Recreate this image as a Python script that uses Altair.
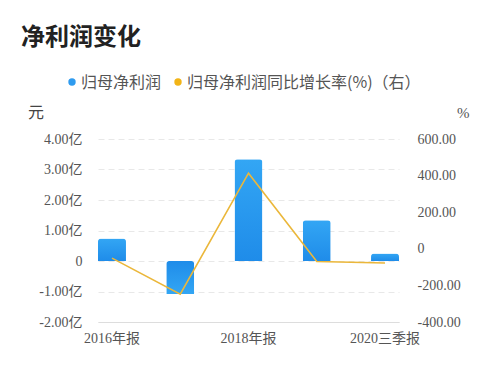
import altair as alt
import pandas as pd

categories = ["2016年报", "2017年报", "2018年报", "2019年报", "2020三季报"]
profit = [0.74, -1.08, 3.34, 1.34, 0.25]          # 亿元
growth = [-51, -248, 413, -69, -78]               # %
shown_labels = ["2016年报", "2018年报", "2020三季报"]
left_ticks = [-2, -1, 0, 1, 2, 3, 4]
right_ticks = [-400, -200, 0, 200, 400, 600]

df = pd.DataFrame({"cat": categories, "profit": profit, "growth": growth})

CJK = "Noto Sans CJK SC"
NUMF = "Liberation Serif, Noto Sans CJK SC"

xenc = alt.X(
    "cat:N", sort=categories, title=None,
    scale=alt.Scale(paddingInner=0.59, paddingOuter=0),
    axis=alt.Axis(
        labelExpr="indexof(%s, datum.label) >= 0 ? datum.label : ''" % str(shown_labels).replace("'", '"'),
        labelAngle=0, ticks=False, domainColor="#dddddd", labelColor="#555555",
        labelFont=NUMF, labelFontSize=14, labelPadding=9, grid=False,
    ),
)

def grad(c_top, c_bot):
    return alt.Gradient(
        gradient="linear",
        stops=[alt.GradientStop(color=c_top, offset=0), alt.GradientStop(color=c_bot, offset=1)],
        x1=0, x2=0, y1=0, y2=1,
    )

SIGNED = "(datum.value < 0 ? '-' : '') + format(abs(datum.value), '.2f')"

left_axis = alt.Axis(
    values=left_ticks, domain=False, ticks=False, labelPadding=16,
    labelExpr="datum.value == 0 ? '0' : " + SIGNED + " + '亿'",
    labelFont=NUMF, labelFontSize=14, labelColor="#555555",
    grid=True, gridColor="#e8e8e8", gridDash=[6, 4], gridWidth=1,
)

bars = alt.Chart(df).mark_bar(cornerRadiusEnd=3).encode(
    x=xenc,
    y=alt.Y("profit:Q", title=None, scale=alt.Scale(domain=[-2, 4], nice=False), axis=left_axis),
    color=alt.condition(
        "datum.profit < 0",
        alt.value(grad("#1F8CE9", "#33A6F4")),
        alt.value(grad("#33A6F4", "#1F8CE9")),
    ),
)

line = alt.Chart(df).mark_line(color="#EBB73A", strokeWidth=1.6).encode(
    x=xenc,
    y=alt.Y(
        "growth:Q", title=None,
        scale=alt.Scale(domain=[-400, 600], nice=False),
        axis=alt.Axis(
            orient="right", values=right_ticks, domain=False, ticks=False, labelPadding=18,
            labelExpr="datum.value == 0 ? '0' : " + SIGNED,
            labelFont=NUMF, labelFontSize=14, labelColor="#555555", grid=False,
        ),
    ),
)

def txt(s, x, y, size, color, weight="normal", align="left", font=CJK):
    return alt.Chart(pd.DataFrame({"t": [s]})).mark_text(
        align=align, baseline="middle", fontSize=size, color=color, fontWeight=weight, font=font
    ).encode(text="t:N", x=alt.value(x), y=alt.value(y))

def dot(x, y, color):
    return alt.Chart(pd.DataFrame({"t": [0]})).mark_point(
        filled=True, size=55, color=color, opacity=1
    ).encode(x=alt.value(x), y=alt.value(y))

# plot origin on page: (98, 139)
title = txt("净利润变化", -77, -101, 24, "#222222", weight="bold")
leg1d = dot(-26, -57, "#2F9BEF")
leg1t = txt("归母净利润", -17, -56, 16, "#555555")
leg2d = dot(80, -57, "#F2B417")
leg2t = txt("归母净利润同比增长率(%)（右）", 89, -56, 16, "#555555")
unit_l = txt("元", -70, -26, 16, "#444444")
unit_r = txt("%", 359, -26, 15, "#555555", font=NUMF)

chart = alt.layer(
    bars, line, title, leg1d, leg1t, leg2d, leg2t, unit_l, unit_r
).resolve_scale(y="independent").properties(
    width=301, height=183,
    autosize=alt.AutoSizeParams(type="none"),
    padding={"left": 90, "top": 131, "right": 93, "bottom": 42},
).configure(background="white").configure_view(stroke=None)

chart.save("out.html", embed_options={"renderer": "svg", "actions": False})
